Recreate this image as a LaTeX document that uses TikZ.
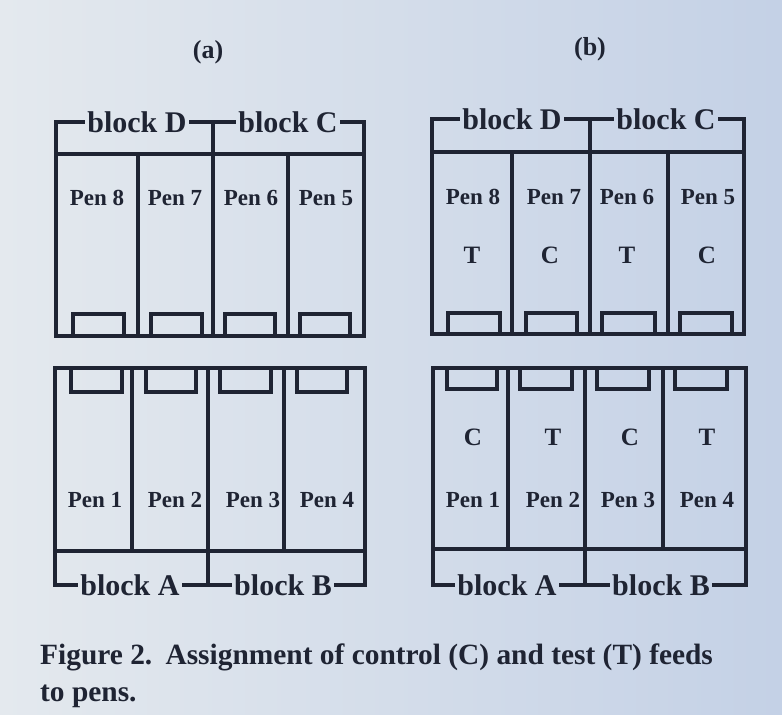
\documentclass[tikz,border=0pt]{standalone}
\usepackage{fontspec}
\setmainfont{Liberation Serif}
\definecolor{ink}{HTML}{1F2433}
\definecolor{bgl}{HTML}{E4E9EE}
\definecolor{bgr}{HTML}{C4D1E6}
\begin{document}
\begin{tikzpicture}[x=1pt,y=-1pt,
  ln/.style={draw=ink, line width=3.2pt, line cap=rect, line join=miter},
  blk/.style={font=\fontsize{30}{30}\selectfont\bfseries, text=ink, inner sep=4pt},
  pen/.style={font=\fontsize{23}{23}\selectfont\bfseries, text=ink, inner sep=0pt},
  feed/.style={font=\fontsize{25}{25}\selectfont\bfseries, text=ink, inner sep=0pt},
  ttl/.style={font=\fontsize{26}{26}\selectfont\bfseries, text=ink, inner sep=0pt},
  captext/.style={font=\fontsize{29.4}{29.4}\selectfont\bfseries, text=ink, inner sep=0pt, anchor=base west}]
\shade[left color=bgl, right color=bgr] (0,0) rectangle (782,715);
\useasboundingbox (0,0) rectangle (782,715);

% ---------- titles ----------
\node[ttl] (ta) at (208,52) {(a)};
\node[ttl] (tb) at (590,49) {(b)};

% ================= panel (a) =================
\node[blk] (bDa) at (137,122) {block D};
\node[blk] (bCa) at (288,122) {block C};
\draw[ln] (bDa.west) -| (56,336);
\draw[ln] (bDa.east) -- (bCa.west);
\draw[ln] (bCa.east) -| (364,336);
\draw[ln] (213,122) -- (213,336);
\draw[ln] (56,154) -- (364,154);
\draw[ln] (56,336) -- (364,336);
\draw[ln] (138,154) -- (138,336);
\draw[ln] (288,154) -- (288,336);
\foreach \a/\b in {73/124,151/202,225/275,300/350}
  \draw[ln] (\a,314) rectangle (\b,336);
\node[pen] (pa8) at (97,198) {Pen 8};
\node[pen] (pa7) at (175,198) {Pen 7};
\node[pen] (pa6) at (251,198) {Pen 6};
\node[pen] (pa5) at (326,198) {Pen 5};

\draw[ln] (55,368) -- (365,368);
\draw[ln] (55,551) -- (365,551);
\draw[ln] (132,368) -- (132,551);
\draw[ln] (284,368) -- (284,551);
\draw[ln] (208,368) -- (208,585);
\foreach \a/\b in {71/122,146/196,220/271,297/347}
  \draw[ln] (\a,368) rectangle (\b,392);
\node[blk] (bAa) at (130,585) {block A};
\node[blk] (bBa) at (283,585) {block B};
\draw[ln] (bAa.west) -| (55,368);
\draw[ln] (bAa.east) -- (bBa.west);
\draw[ln] (bBa.east) -| (365,368);
\node[pen] (pa1) at (95,500) {Pen 1};
\node[pen] (pa2) at (175,500) {Pen 2};
\node[pen] (pa3) at (253,500) {Pen 3};
\node[pen] (pa4) at (327,500) {Pen 4};

% ================= panel (b) =================
\node[blk] (bDb) at (512,119) {block D};
\node[blk] (bCb) at (666,119) {block C};
\draw[ln] (bDb.west) -| (432,334);
\draw[ln] (bDb.east) -- (bCb.west);
\draw[ln] (bCb.east) -| (744,334);
\draw[ln] (590,119) -- (590,334);
\draw[ln] (432,152) -- (744,152);
\draw[ln] (432,334) -- (744,334);
\draw[ln] (512,152) -- (512,334);
\draw[ln] (668,152) -- (668,334);
\foreach \a/\b in {448/500,526/577,602/655,680/732}
  \draw[ln] (\a,313) rectangle (\b,334);
\node[pen] (pb8) at (473,197) {Pen 8};
\node[pen] (pb7) at (554,197) {Pen 7};
\node[pen] (pb6) at (627,197) {Pen 6};
\node[pen] (pb5) at (708,197) {Pen 5};
\node[feed] (fb8) at (472,255) {T};
\node[feed] (fb7) at (550,255) {C};
\node[feed] (fb6) at (627,255) {T};
\node[feed] (fb5) at (707,255) {C};

\draw[ln] (433,368) -- (746,368);
\draw[ln] (433,549) -- (746,549);
\draw[ln] (508,368) -- (508,549);
\draw[ln] (663,368) -- (663,549);
\draw[ln] (585,368) -- (585,585);
\foreach \a/\b in {447/497,520/572,597/649,675/727}
  \draw[ln] (\a,368) rectangle (\b,389);
\node[blk] (bAb) at (507,585) {block A};
\node[blk] (bBb) at (661,585) {block B};
\draw[ln] (bAb.west) -| (433,368);
\draw[ln] (bAb.east) -- (bBb.west);
\draw[ln] (bBb.east) -| (746,368);
\node[feed] (fb1) at (473,437) {C};
\node[feed] (fb2) at (553,437) {T};
\node[feed] (fb3) at (630,437) {C};
\node[feed] (fb4) at (707,437) {T};
\node[pen] (pb1) at (473,500) {Pen 1};
\node[pen] (pb2) at (553,500) {Pen 2};
\node[pen] (pb3) at (628,500) {Pen 3};
\node[pen] (pb4) at (707,500) {Pen 4};

% ---------- caption ----------
\node[captext] (cap1) at (40,664) {Figure 2.\hspace{0.45em}Assignment of control (C) and test (T) feeds};
\node[captext] (cap2) at (40,701) {to pens.};
\end{tikzpicture}
\end{document}
